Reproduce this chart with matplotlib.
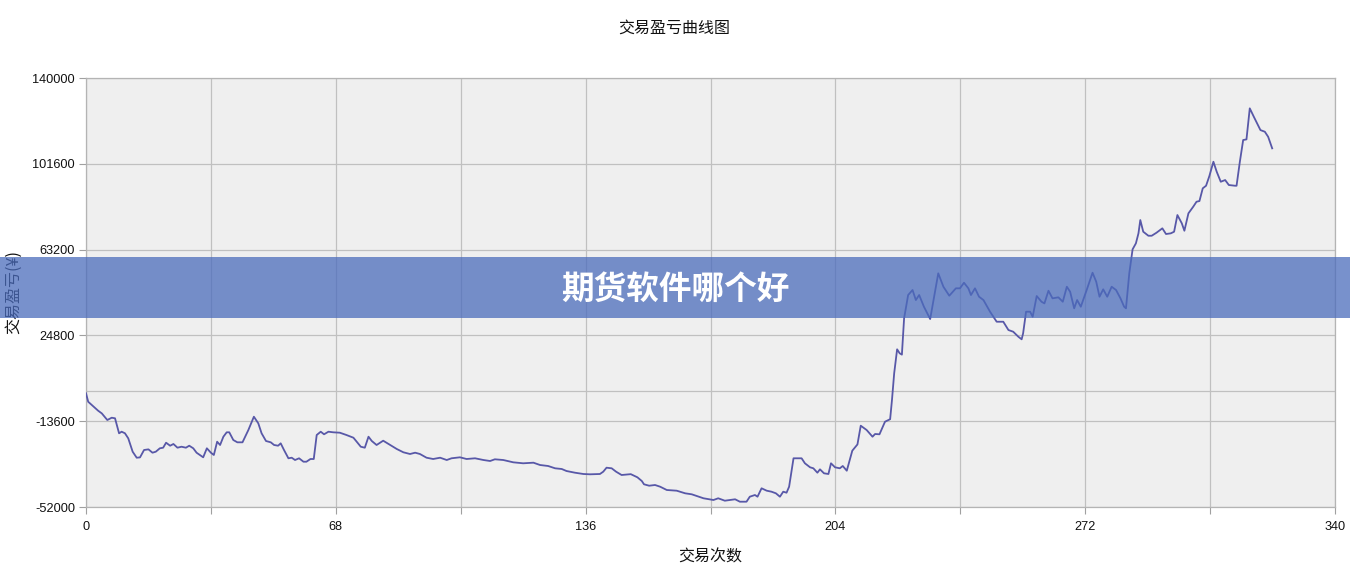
import matplotlib
matplotlib.use("Agg")
import matplotlib.pyplot as plt
from matplotlib.patches import Rectangle

plt.rcParams['font.family'] = ['Liberation Sans', 'Noto Sans CJK SC', 'DejaVu Sans']

title = "交易盈亏曲线图"
xlabel = "交易次数"
ylabel = "交易盈亏(¥)"
banner_text = "期货软件哪个好"

trade_idx = [0, 0.6, 3.3, 4.3, 5.8, 7.0, 7.9, 9.0, 9.7, 10.6, 11.5, 12.7, 13.8, 14.7, 15.8, 17.0,
             18.1, 19.0, 20.1, 21.0, 21.8, 22.9, 23.8, 24.9, 26.0, 27.2, 28.1, 29.2, 30.1, 31.0,
             31.9, 32.9, 34.0, 34.8, 35.7, 36.5, 37.4, 38.3, 39.0, 40.1, 41.2, 42.6, 44.2, 45.7,
             46.9, 47.8, 49.0, 50.3, 51.2, 52.3, 53.0, 53.9, 55.1, 56.0, 56.9, 58.0, 59.2, 60.0,
             61.1, 62.0, 62.8, 63.9, 64.8, 66.0, 67.3, 69.1, 70.9, 72.8, 73.7, 74.8, 75.9, 76.9,
             77.8, 79.1, 80.9, 82.8, 84.6, 86.4, 88.2, 89.6, 90.9, 92.7, 94.5, 96.4, 98.2, 99.5,
             101.8, 103.6, 105.9, 108.2, 110.0, 111.3, 113.6, 116.3, 119.0, 121.8, 123.6, 125.8,
             127.7, 129.5, 130.8, 133.1, 135.4, 137.2, 139.9, 140.8, 141.7, 143.1, 144.3, 145.8,
             148.3, 150.1, 151.3, 151.9, 153.3, 154.9, 156.3, 158.1, 160.8, 163.1, 164.9, 168.1,
             170.8, 172.1, 173.9, 176.7, 178.0, 179.8, 180.7, 182.1, 182.8, 183.9, 185.3, 186.6,
             187.8, 188.9, 189.8, 190.7, 191.4, 192.6, 194.8, 195.7, 197.1, 198.0, 199.1, 199.8,
             200.9, 202.1, 202.8, 203.9, 205.2, 206.0, 207.1, 208.6, 210.0, 210.9, 212.5, 214.1,
             214.8, 216.0, 217.5, 218.9, 219.4, 220.0, 220.8, 221.5, 222.1, 222.7, 223.8, 225.0,
             225.9, 226.8, 228.1, 229.8, 232.0, 233.4, 235.0, 236.8, 237.9, 239.0, 240.2, 240.9,
             242.0, 243.1, 244.3, 246.1, 247.9, 249.7, 251.1, 252.4, 253.8, 254.7, 255.1, 255.9,
             257.0, 257.7, 258.8, 260.1, 260.9, 262.0, 263.1, 264.7, 265.9, 267.0, 267.9, 269.0,
             269.8, 270.8, 272.4, 274.0, 275.0, 275.9, 276.9, 278.0, 279.2, 280.4, 281.6, 282.6,
             283.1, 284.0, 284.9, 285.8, 286.5, 287.0, 287.8, 289.2, 290.1, 291.4, 293.0, 294.0,
             295.3, 296.2, 297.1, 298.3, 299.0, 300.1, 301.4, 302.3, 303.1, 304.0, 304.9, 305.8,
             306.9, 307.8, 308.9, 310.1, 311.1, 312.8, 313.2, 314.1, 315.0, 315.9, 316.8, 317.9,
             318.8, 319.7, 320.9, 321.8, 322.9]

pnl = [-1100, -4900, -8900, -10100, -13070, -12040, -12300, -19020, -18300, -19000, -21260, -27250,
       -29940, -29800, -26490, -26200, -27700, -27250, -25730, -25460, -23230, -24570, -23800, -25460,
       -25020, -25460, -24570, -25730, -27700, -28730, -29760, -25730, -27700, -28730, -22780, -24250,
       -20540, -18570, -18570, -22020, -23050, -23050, -17540, -11590, -14545, -19020, -22465, -23050,
       -24250, -24570, -23500, -26490, -30200, -29940, -30970, -30200, -31730, -31730, -30520, -30520,
       -19780, -18300, -19460, -18300, -18570, -18750, -19780, -20990, -22780, -25020, -25460, -20540,
       -22465, -24250, -22330, -24250, -26045, -27520, -28280, -27700, -28280, -29940, -30520, -29940,
       -30970, -30200, -29760, -30520, -30200, -30970, -31415, -30650, -30970, -32000, -32440, -32170,
       -33205, -33650, -34680, -34990, -35890, -36650, -37230, -37370, -37230, -36200, -34410, -34680,
       -36200, -37680, -37300, -38710, -40365, -41840, -42470, -42155, -42920, -44390, -44700, -45870,
       -46320, -48100, -48870, -48100, -49180, -48550, -49630, -49630, -47390, -46630, -47390, -43630,
       -44700, -45150, -45870, -47390, -45150, -45600, -42920, -30200, -30200, -32440, -34230, -34680,
       -36650, -35140, -36920, -37230, -32440, -34230, -34680, -33650, -35760, -26800, -24000, -15620,
       -17540, -20540, -19330, -19460, -13830, -12700, -4120, 7830, 18570, 16780, 16200, 32440,
       42870, 45110, 40630, 42870, 37630, 32130, 52580, 46580, 42560, 45870, 45870, 48370,
       45870, 42870, 45870, 42110, 40630, 35400, 30920, 30920, 27210, 26450, 24210, 23050,
       25730, 35400, 35400, 33160, 42420, 39870, 39120, 44790, 41390, 41840, 39870, 46580,
       44340, 36920, 40630, 37630, 45110, 52850, 48820, 42110, 45420, 42110, 46580, 45110,
       41390, 37630, 36920, 52580, 63320, 66000, 70480, 76430, 71200, 69400, 69400, 70750,
       72720, 70170, 70480, 71200, 78670, 74950, 71640, 79430, 82380, 84620, 84935, 90620,
       91780, 96120, 102520, 98050, 93570, 94330, 92100, 91780, 91780, 102520, 112230, 112530,
       126420, 122660, 119700, 116700, 115950, 113700, 108520]

x_ticks = [0, 34, 68, 102, 136, 170, 204, 238, 272, 306, 340]
x_tick_labels = ["0", "", "68", "", "136", "", "204", "", "272", "", "340"]
y_ticks = [-52000, -13600, 24800, 63200, 101600, 140000]
y_tick_labels = ["-52000", "-13600", "24800", "63200", "101600", "140000"]

W, H = 1350, 576
fig = plt.figure(figsize=(W / 100, H / 100), dpi=100)
fig.patch.set_facecolor('white')
ax = fig.add_axes([86 / W, 1 - 507 / H, (1335 - 86) / W, (507 - 78) / H])
ax.set_facecolor('#EFEFEF')

grid_c = '#C0C0C0'
ax.set_xlim(0, 340)
ax.set_ylim(-52000, 140000)
ax.set_xticks(x_ticks)
ax.set_xticklabels(x_tick_labels)
ax.set_yticks(y_ticks)
ax.set_yticklabels(y_tick_labels)
ax.grid(True, color=grid_c, linewidth=0.9)
ax.axhline(0, color=grid_c, linewidth=0.9, zorder=0.5)
ax.set_axisbelow(True)
for s in ax.spines.values():
    s.set_color('#B4B4B4')
    s.set_linewidth(0.9)
ax.tick_params(axis='both', colors='#A0A0A0', length=5, width=0.8, labelcolor='#111111', labelsize=9.2)
ax.tick_params(axis='x', pad=5)
ax.tick_params(axis='y', pad=3)

ax.plot(trade_idx, pnl, color='#5858A8', linewidth=1.3, zorder=3)

cjk = ['Noto Sans CJK SC', 'DejaVu Sans']
fig.text(674 / W, 1 - 28 / H, title, ha='center', va='center', fontsize=11.5, family=cjk, color='#111111')
fig.text(710 / W, 1 - 557 / H, xlabel, ha='center', va='center', fontsize=11.5, family=cjk, color='#111111')
fig.text(14 / W, 1 - 292 / H, ylabel, ha='center', va='center', rotation=90, fontsize=11.5,
         family=cjk, color='#111111')

# banner overlay
fig.patches.append(Rectangle((0, 1 - 318 / H), 1, (318 - 257) / H, transform=fig.transFigure,
                             facecolor='#4B6CBC', alpha=0.75, edgecolor='none', zorder=10))
fig.text(675 / W, 1 - 289 / H, banner_text, ha='center', va='center', fontsize=23.5,
         fontweight='bold', family=cjk, color='white', zorder=11)

fig.savefig('out.png', dpi=100)
